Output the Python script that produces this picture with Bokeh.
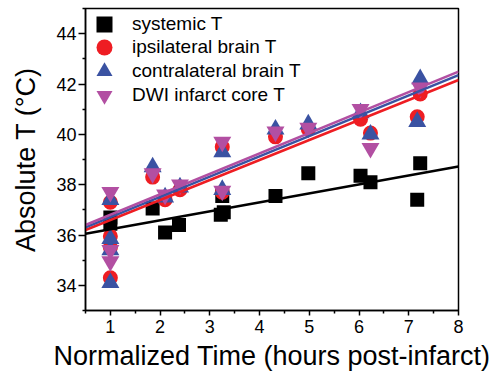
from bokeh.plotting import figure
from bokeh.models import Legend, LegendItem, FixedTicker, Range1d
from bokeh.embed import file_html
from bokeh.resources import INLINE
import numpy as np

# ---- data ----
sys_x = [1.0, 1.0, 1.85, 2.10, 2.38, 3.22, 3.28, 3.25, 4.32, 4.98, 6.03, 6.23, 7.17, 7.23]
sys_y = [36.7, 36.45, 37.05, 36.1, 36.4, 36.8, 36.9, 37.55, 37.55, 38.45, 38.35, 38.1, 37.4, 38.85]

ipsi_x = [1.0, 1.0, 1.0, 1.0, 1.85, 2.10, 2.40, 3.25, 3.25, 4.32, 4.98, 6.03, 6.23, 7.17, 7.23]
ipsi_y = [37.3, 35.95, 35.5, 34.3, 38.3, 37.4, 37.8, 39.5, 37.7, 39.9, 40.2, 40.6, 40.05, 40.7, 41.6]

contra_x = [1.0, 1.0, 1.0, 1.0, 1.85, 2.10, 2.40, 3.25, 3.25, 4.32, 4.98, 6.03, 6.23, 7.17, 7.23]
contra_y = [37.4, 35.85, 35.4, 34.1, 38.7, 37.5, 37.9, 39.3, 37.8, 40.2, 40.4, 40.85, 40.0, 40.5, 42.2]

dwi_x = [1.0, 1.0, 1.0, 1.85, 2.10, 2.40, 3.25, 3.25, 4.32, 4.98, 6.03, 6.23, 7.23]
dwi_y = [37.7, 35.4, 34.95, 38.45, 37.6, 38.0, 39.7, 37.75, 40.1, 40.25, 41.0, 39.45, 41.85]

# linear fits (intercept, slope)
fit_names = ["systemic", "ipsi", "contra", "dwi"]
fit_intercept = [35.87, 35.80, 35.90, 35.99]
fit_slope = [0.357, 0.795, 0.807, 0.813]
fit_x = [0.5, 8.0]

labels = ["systemic T", "ipsilateral brain T", "contralateral brain T", "DWI infarct core T"]
colors = ["#000000", "#EE1D23", "#3A52A2", "#B24FA2"]

x_ticks = [1, 2, 3, 4, 5, 6, 7, 8]
x_minor = [0.5, 1.5, 2.5, 3.5, 4.5, 5.5, 6.5, 7.5]
y_ticks = [34, 36, 38, 40, 42, 44]
y_minor = [33, 35, 37, 39, 41, 43, 45]

FONT = "Liberation Sans"

p = figure(width=496, height=376, output_backend="svg", toolbar_location=None,
           x_range=Range1d(0.5, 8.0), y_range=Range1d(33, 45),
           min_border_left=85, min_border_right=38, min_border_top=8, min_border_bottom=66)

p.xgrid.visible = False
p.ygrid.visible = False
p.outline_line_color = "black"
p.outline_line_width = 1.5
p.background_fill_color = "white"
p.border_fill_color = "white"

r_sys = p.scatter(sys_x, sys_y, marker="square", size=14, color=colors[0], line_color=None)
r_ipsi = p.scatter(ipsi_x, ipsi_y, marker="circle", size=15, color=colors[1], line_color=None)
r_con = p.scatter(contra_x, contra_y, marker="triangle", size=18, color=colors[2], line_color=None)
r_dwi = p.scatter(dwi_x, dwi_y, marker="inverted_triangle", size=18, color=colors[3], line_color=None)

fx = np.array(fit_x)
for b, m, c in zip(fit_intercept, fit_slope, colors):
    p.line(fx, b + m * fx, line_color=c, line_width=2.5)

# axes
for ax in (p.xaxis[0], p.yaxis[0]):
    ax.axis_line_width = 1.5
    ax.major_tick_line_width = 1.5
    ax.minor_tick_line_width = 1.5
    ax.major_tick_in = 0
    ax.minor_tick_in = 0
    ax.major_label_text_font = FONT
    ax.major_label_text_font_size = "18px"
    ax.major_label_text_color = "black"
    ax.axis_label_text_font = FONT
    ax.axis_label_text_font_size = "27px"
    ax.axis_label_text_font_style = "normal"
    ax.axis_label_text_color = "black"

p.xaxis.ticker = FixedTicker(ticks=x_ticks, minor_ticks=x_minor)
p.yaxis.ticker = FixedTicker(ticks=y_ticks, minor_ticks=y_minor)
p.xaxis.major_tick_out = 5
p.xaxis.minor_tick_out = 3
p.yaxis.major_tick_out = 7
p.yaxis.minor_tick_out = 3
p.xaxis.major_label_standoff = 4
p.yaxis.major_label_standoff = 2
p.xaxis.axis_label_standoff = 5
p.yaxis.axis_label_standoff = 12
p.xaxis.axis_label = "Normalized Time (hours post-infarct)"
p.yaxis.axis_label = "Absolute T (\u00b0C)"

# one single-item legend per series, stacked at 24 px pitch
renderers = [r_sys, r_ipsi, r_con, r_dwi]
legend_offsets = [265, 242, 218, 194]
for lab, rend, vy in zip(labels, renderers, legend_offsets):
    lg = Legend(items=[LegendItem(label=lab, renderers=[rend])], location=(-1, vy))
    lg.glyph_width = 40
    lg.glyph_height = 42
    lg.label_height = 20
    lg.padding = 0
    lg.margin = 0
    lg.label_standoff = 8
    lg.label_text_font = FONT
    lg.label_text_font_size = "19px"
    lg.label_text_color = "black"
    lg.border_line_alpha = 0
    lg.background_fill_alpha = 0
    p.add_layout(lg, "center")

open("out.html", "w").write(file_html(p, INLINE))
